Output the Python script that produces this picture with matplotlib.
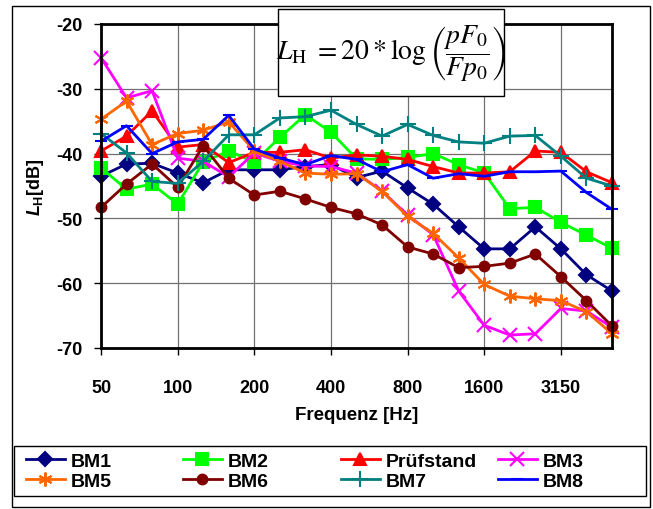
import matplotlib
matplotlib.use("Agg")
import matplotlib.pyplot as plt
from matplotlib.patches import Rectangle
import numpy as np

plt.rcParams["font.family"] = "Liberation Sans"
plt.rcParams["axes.unicode_minus"] = False
plt.rcParams["mathtext.fontset"] = "custom"
plt.rcParams["mathtext.it"] = "Liberation Sans:italic:bold"
plt.rcParams["mathtext.rm"] = "Liberation Sans:bold"
plt.rcParams["mathtext.bf"] = "Liberation Sans:bold"

# 1/3-octave bands 50 Hz ... 5000 Hz
freqs = [50, 63, 80, 100, 125, 160, 200, 250, 315, 400, 500, 630, 800,
         1000, 1250, 1600, 2000, 2500, 3150, 4000, 5000]
tick_labels = ["50", "100", "200", "400", "800", "1600", "3150"]
tick_idx = [0, 3, 6, 9, 12, 15, 18]

bm1 = [-43.5, -41.6, -41.5, -43.0, -44.5, -42.5, -42.5, -42.5, -42.0, -41.7, -43.7,
       -42.7, -45.3, -47.8, -51.3, -54.7, -54.7, -51.3, -54.7, -58.7, -61.2]
bm2 = [-42.2, -45.5, -44.7, -47.8, -41.3, -39.6, -41.3, -37.5, -34.0, -36.7, -40.8,
       -40.9, -40.6, -40.0, -41.7, -43.0, -48.5, -48.3, -50.6, -52.6, -54.6]
pruef = [-39.6, -37.3, -33.4, -39.0, -38.6, -41.4, -39.8, -39.8, -39.4, -40.7, -40.2,
         -40.4, -40.9, -42.0, -43.0, -43.0, -42.8, -39.6, -39.8, -42.8, -44.5]
bm3 = [-25.2, -31.4, -30.3, -40.7, -41.2, -43.6, -39.9, -41.2, -41.9, -42.0, -43.0,
       -45.8, -49.5, -52.5, -61.2, -66.5, -68.0, -67.8, -63.9, -64.3, -66.8]
bm5 = [-34.7, -31.9, -38.6, -36.9, -36.4, -35.1, -39.6, -41.2, -43.0, -43.2, -43.1,
       -45.8, -49.7, -52.3, -56.1, -60.2, -62.0, -62.4, -62.7, -64.4, -67.8]
bm6 = [-48.3, -44.7, -41.6, -45.2, -38.8, -43.8, -46.4, -45.8, -47.0, -48.3, -49.3,
       -51.0, -54.4, -55.5, -57.6, -57.4, -56.9, -55.5, -59.0, -62.7, -66.6]
bm7 = [-36.9, -39.9, -44.3, -44.6, -41.2, -37.1, -37.1, -34.5, -34.3, -33.3, -35.5,
       -37.3, -35.5, -37.2, -38.2, -38.4, -37.3, -37.2, -40.4, -43.8, -45.0]
bm8 = [-38.1, -35.7, -40.0, -38.2, -37.8, -34.1, -39.3, -40.7, -41.7, -40.3, -40.9,
       -42.8, -41.7, -43.8, -43.1, -43.5, -42.8, -42.8, -42.7, -46.0, -48.6]

names = ["BM1", "BM2", "Prüfstand", "BM3", "BM5", "BM6", "BM7", "BM8"]
series = [bm1, bm2, pruef, bm3, bm5, bm6, bm7, bm8]
colors = ["#000080", "#00FF00", "#FF0000", "#FF00FF", "#FF6600", "#800000", "#008080", "#0000FF"]
markers = ["D", "s", "^", "x", (6, 2, 0), "o", "+", "_"]
msizes = [7, 8, 9, 10, 10, 7, 11, 9]

W, H = 653, 510
fig = plt.figure(figsize=(W / 100, H / 100), dpi=100)
ax = fig.add_axes([101 / W, 1 - 349 / H, 511 / W, 324 / H])

x = np.arange(len(freqs))
handles = []
for s, name, c, m, ms in zip(series, names, colors, markers, msizes):
    h, = ax.plot(x, s, color=c, lw=2, marker=m, ms=ms, mec=c, mfc=c, mew=1.5,
                 label=name, clip_on=False)
    handles.append(h)

ax.set_xlim(0, 20)
ax.set_ylim(-70, -20)
ax.set_xticks(tick_idx)
ax.set_xticklabels(tick_labels)
ax.set_yticks(np.arange(-70, -19, 10))
ax.tick_params(axis="both", direction="out", length=5, width=1, labelsize=13)
ax.tick_params(axis="x", pad=17)
ax.tick_params(axis="y", pad=8)
plt.setp(ax.get_xticklabels() + ax.get_yticklabels(), fontweight="bold")
ax.grid(True, color="#707070", lw=0.9)
for sp in ax.spines.values():
    sp.set_linewidth(2)

ax.set_xlabel("Frequenz [Hz]", fontsize=13.5, fontweight="bold")
ax.xaxis.set_label_coords(0.5, -0.18)
ax.set_ylabel(r"$L_{\mathrm{H}}$[dB]", fontsize=13, fontweight="bold")
ax.yaxis.set_label_coords(-0.107, 0.5)

# formula box
fig.patches.append(Rectangle((278 / W, 1 - 97 / H), 226 / W, 87 / H, transform=fig.transFigure,
                             facecolor="white", edgecolor="black", lw=1, zorder=3))
fig.text(391 / W, 1 - 54 / H, r"$L_{\mathrm{H}}\ = 20*\log\left(\dfrac{pF_0}{Fp_0}\right)$",
         ha="center", va="center", fontsize=20, fontweight="normal",
         math_fontfamily="stix", zorder=4)

# legend frame and columns
fig.patches.append(Rectangle((14 / W, 1 - 497 / H), 632 / W, 50 / H, transform=fig.transFigure,
                             facecolor="white", edgecolor="black", lw=1, zorder=1))
col_x = [26, 183, 341, 498]
for k in range(4):
    leg = fig.legend([handles[k], handles[k + 4]], [names[k], names[k + 4]],
                     loc="upper left", bbox_to_anchor=(col_x[k] / W, 1 - 453 / H),
                     frameon=False, prop={"size": 14, "weight": "bold"},
                     handlelength=2.0, handletextpad=0.3,
                     labelspacing=0.15, borderpad=0, borderaxespad=0)
    leg.set_zorder(2)

# outer border
fig.patches.append(Rectangle((12 / W, 1 - 508 / H), 638 / W, 501 / H, transform=fig.transFigure,
                             facecolor="none", edgecolor="black", lw=1, zorder=0))

fig.savefig("out.png", dpi=100)
